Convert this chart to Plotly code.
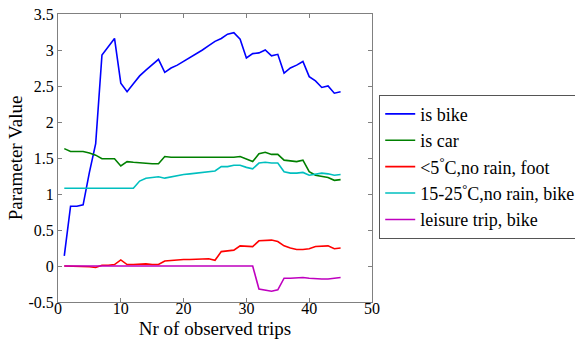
import plotly.graph_objects as go

trips = list(range(1, 46))

is_bike = [0.14, 0.83, 0.83, 0.85, 1.30, 1.70, 2.93, 3.05, 3.16, 2.54,
           2.42, 2.53, 2.64, 2.72, 2.79, 2.87, 2.69, 2.75, 2.79, 2.84,
           2.90, 2.95, 3.00, 3.06, 3.12, 3.16, 3.22, 3.24, 3.15, 2.89,
           2.95, 2.96, 3.00, 2.92, 2.94, 2.68, 2.75, 2.79, 2.84, 2.63,
           2.57, 2.48, 2.50, 2.40, 2.42]
is_car = [1.63, 1.59, 1.59, 1.59, 1.57, 1.54, 1.49, 1.49, 1.49, 1.39,
          1.45, 1.44, 1.43, 1.42, 1.42, 1.42, 1.52, 1.51, 1.51, 1.51,
          1.50, 1.50, 1.50, 1.51, 1.51, 1.51, 1.51, 1.51, 1.52, 1.49,
          1.45, 1.56, 1.58, 1.55, 1.55, 1.47, 1.46, 1.45, 1.47, 1.31,
          1.26, 1.24, 1.23, 1.19, 1.20]
cold_foot = [0.00, 0.00, -0.01, -0.01, -0.01, -0.02, 0.01, 0.01, 0.02, 0.085,
             0.02, 0.02, 0.03, 0.03, 0.02, 0.02, 0.07, 0.08, 0.08, 0.09,
             0.09, 0.09, 0.10, 0.10, 0.08, 0.20, 0.21, 0.22, 0.28, 0.28,
             0.27, 0.35, 0.36, 0.36, 0.34, 0.28, 0.25, 0.23, 0.23, 0.24,
             0.27, 0.28, 0.28, 0.24, 0.25]
warm_bike = [1.08, 1.08, 1.08, 1.08, 1.08, 1.08, 1.08, 1.08, 1.08, 1.08,
             1.08, 1.08, 1.18, 1.22, 1.23, 1.24, 1.22, 1.24, 1.25, 1.27,
             1.28, 1.29, 1.30, 1.31, 1.32, 1.38, 1.38, 1.40, 1.40, 1.37,
             1.35, 1.43, 1.44, 1.43, 1.43, 1.31, 1.29, 1.29, 1.30, 1.26,
             1.28, 1.29, 1.28, 1.26, 1.27]
leisure_bike = [0.0] * 31 + [-0.32, -0.33, -0.35, -0.33, -0.17, -0.17, -0.16,
                             -0.16, -0.17, -0.18, -0.18, -0.18, -0.17, -0.16]

series = [
    ("is bike", is_bike, "#0000FF"),
    ("is car", is_car, "#008000"),
    ("<5<sup>°</sup>C,no rain, foot", cold_foot, "#FF0000"),
    ("15-25<sup>°</sup>C,no rain, bike", warm_bike, "#00BFBF"),
    ("leisure trip, bike", leisure_bike, "#BF00BF"),
]

x_ticks = [0, 10, 20, 30, 40, 50]
y_ticks = [-0.5, 0, 0.5, 1, 1.5, 2, 2.5, 3, 3.5]
y_tick_labels = ["-0.5", "0", "0.5", "1", "1.5", "2", "2.5", "3", "3.5"]

fig = go.Figure()
for name, vals, col in series:
    fig.add_trace(go.Scatter(x=trips, y=vals, mode="lines", name=name,
                             line=dict(color=col, width=1.6)))

font = "Times New Roman"
axis_common = dict(showline=True, mirror="ticks", linecolor="#808080", linewidth=1,
                   ticks="inside", ticklen=4, tickcolor="#808080",
                   showgrid=False, zeroline=False,
                   tickfont=dict(family=font, size=16, color="#000"))

fig.update_layout(
    width=575, height=343,
    margin=dict(l=58, r=203, t=14, b=41, autoexpand=False),
    paper_bgcolor="white", plot_bgcolor="white",
    font=dict(family=font, color="#000"),
    xaxis=dict(range=[0, 50], tickvals=x_ticks, ticklabelstandoff=-8, **axis_common,
               title=dict(text="Nr of observed trips", font=dict(family=font, size=19), standoff=5)),
    yaxis=dict(range=[-0.5, 3.5], tickvals=y_ticks, ticktext=y_tick_labels, **axis_common,
               title=dict(text="Parameter Value", font=dict(family=font, size=19), standoff=0)),
    legend=dict(x=1.023, y=0.72, xanchor="left", yanchor="top",
                bgcolor="white", bordercolor="#555", borderwidth=1,
                font=dict(family=font, size=18), itemwidth=30,
                tracegroupgap=0),
    showlegend=True,
)

fig.write_html("out.html", config={"displayModeBar": False},
               post_script="document.body.style.margin='0';")
